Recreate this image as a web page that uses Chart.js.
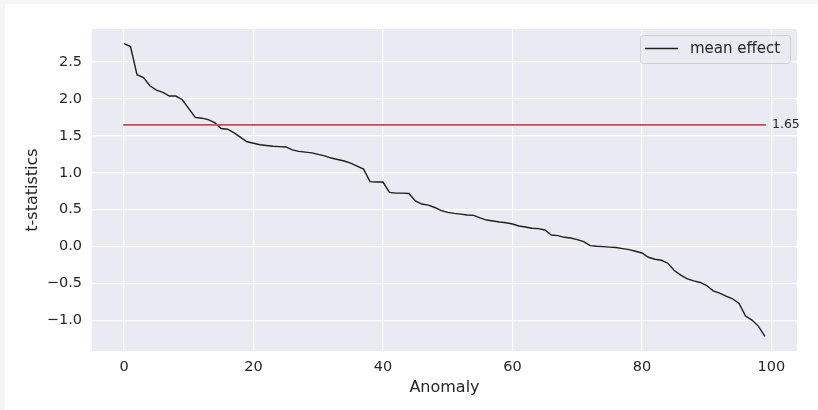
<!DOCTYPE html>
<html>
<head>
<meta charset="utf-8">
<title>t-statistics by anomaly</title>
<script src="https://cdn.jsdelivr.net/npm/chart.js@4.4.1/dist/chart.umd.min.js"></script>
<style>
  html, body { margin: 0; padding: 0; background: #ffffff; }
  #wrap { position: relative; width: 818px; height: 410px; }
  canvas { display: block; }
</style>
</head>
<body>
<div id="wrap"><canvas id="c" width="818" height="410"></canvas></div>
<script>
// t-statistic of the mean effect for each anomaly, sorted from high to low
const meanEffect = [
  2.75, 2.71, 2.33, 2.29, 2.18, 2.12, 2.09, 2.04, 2.04, 1.99,
  1.87, 1.75, 1.74, 1.72, 1.68, 1.60, 1.59, 1.54, 1.48, 1.42,
  1.40, 1.38, 1.37, 1.36, 1.355, 1.35, 1.31, 1.29, 1.28, 1.27,
  1.25, 1.23, 1.20, 1.18, 1.16, 1.13, 1.09, 1.05, 0.88, 0.875,
  0.875, 0.735, 0.725, 0.725, 0.72, 0.62, 0.577, 0.563, 0.53, 0.487,
  0.464, 0.45, 0.44, 0.428, 0.423, 0.39, 0.36, 0.347, 0.333, 0.324,
  0.306, 0.28, 0.266, 0.248, 0.243, 0.225, 0.158, 0.149, 0.126, 0.117,
  0.095, 0.068, 0.014, 0.005, 0.0, -0.007, -0.013, -0.027, -0.041, -0.063,
  -0.086, -0.144, -0.171, -0.185, -0.225, -0.324, -0.387, -0.437, -0.464, -0.486,
  -0.527, -0.599, -0.631, -0.671, -0.707, -0.77, -0.94, -0.995, -1.08, -1.216
];
// anomaly index for each value
const anomalies = meanEffect.map((_, i) => i);
// significance threshold drawn as a horizontal reference line
const threshold = 1.65;
const thresholdLabel = '1.65';
const seriesLabel = 'mean effect';
const xTicks = [0, 20, 40, 60, 80, 100];
const yTicks = [-1.0, -0.5, 0.0, 0.5, 1.0, 1.5, 2.0, 2.5];

const TEXT = '#262626';
const FONT = "'DejaVu Sans', sans-serif";

// matplotlib-style 5% margins around the data
const xMin0 = anomalies[0], xMax0 = anomalies[anomalies.length - 1];
const yMin0 = Math.min(...meanEffect, threshold), yMax0 = Math.max(...meanEffect, threshold);
const xPad = (xMax0 - xMin0) * 0.05, yPad = (yMax0 - yMin0) * 0.05;

const fmtNum = v => {
  const s = v.toFixed(1);
  return v < 0 ? '\u2212' + s.slice(1) : s;
};

const chromePlugin = {
  id: 'chrome',
  beforeDraw(chart) {
    const { ctx, chartArea: a, width, height } = chart;
    ctx.save();
    ctx.fillStyle = '#ffffff';
    ctx.fillRect(0, 0, width, height);
    ctx.fillStyle = '#f6f6f8';
    ctx.fillRect(0, 0, 5, height);
    ctx.fillRect(0, 0, width, 4);
    ctx.fillStyle = '#eaeaf2';
    ctx.fillRect(a.left, a.top, a.right - a.left, a.bottom - a.top);
    ctx.restore();
  },
  afterDatasetsDraw(chart) {
    const { ctx } = chart;
    const xs = chart.scales.x, ys = chart.scales.y;
    ctx.save();
    // threshold value printed to the right of the reference line
    ctx.fillStyle = TEXT;
    ctx.font = '12.5px ' + FONT;
    ctx.textAlign = 'left';
    ctx.textBaseline = 'middle';
    ctx.fillText(thresholdLabel, xs.getPixelForValue(xMax0) + 7, ys.getPixelForValue(threshold));

    // legend box in the upper right corner
    const bx = 640.5, by = 35.5, bw = 150, bh = 28, r = 3;
    ctx.beginPath();
    ctx.moveTo(bx + r, by);
    ctx.arcTo(bx + bw, by, bx + bw, by + bh, r);
    ctx.arcTo(bx + bw, by + bh, bx, by + bh, r);
    ctx.arcTo(bx, by + bh, bx, by, r);
    ctx.arcTo(bx, by, bx + bw, by, r);
    ctx.closePath();
    ctx.fillStyle = 'rgba(234,234,242,0.8)';
    ctx.fill();
    ctx.strokeStyle = 'rgba(204,204,204,0.8)';
    ctx.lineWidth = 1;
    ctx.stroke();
    const ds = chart.data.datasets[0];
    ctx.beginPath();
    ctx.moveTo(645, 48.5);
    ctx.lineTo(678, 48.5);
    ctx.strokeStyle = ds.borderColor;
    ctx.lineWidth = ds.borderWidth;
    ctx.stroke();
    ctx.fillStyle = TEXT;
    ctx.font = '15px ' + FONT;
    ctx.textBaseline = 'middle';
    ctx.fillText(ds.label, 690, 49);
    ctx.restore();
  }
};

new Chart(document.getElementById('c'), {
  type: 'line',
  data: {
    datasets: [
      {
        label: seriesLabel,
        data: anomalies.map((a, i) => ({ x: a, y: meanEffect[i] })),
        borderColor: '#1f1f1f',
        borderWidth: 1.4,
        pointRadius: 0,
        tension: 0,
        order: 2
      },
      {
        label: 'threshold',
        data: [{ x: xMin0, y: threshold }, { x: xMax0, y: threshold }],
        borderColor: '#c44e52',
        borderWidth: 1.8,
        borderCapStyle: 'square',
        pointRadius: 0,
        order: 1
      }
    ]
  },
  options: {
    responsive: false,
    animation: false,
    devicePixelRatio: 1,
    layout: { padding: { top: 29, right: 21, left: 0, bottom: 0 } },
    plugins: { legend: { display: false }, tooltip: { enabled: false } },
    scales: {
      x: {
        type: 'linear',
        min: xMin0 - xPad,
        max: xMax0 + xPad,
        afterFit(s) { s.height = 59; },
        afterBuildTicks(s) { s.ticks = xTicks.map(v => ({ value: v })); },
        border: { display: false },
        grid: { color: '#ffffff', lineWidth: 1.2, drawTicks: false },
        ticks: { color: TEXT, font: { family: FONT, size: 14.5 }, padding: 8, maxRotation: 0,
                 callback: v => String(v) },
        title: { display: true, text: 'Anomaly', color: TEXT,
                 font: { family: FONT, size: 16 }, padding: { top: 0, bottom: 13 } }
      },
      y: {
        type: 'linear',
        min: yMin0 - yPad,
        max: yMax0 + yPad,
        afterFit(s) { s.width = 92; },
        afterBuildTicks(s) { s.ticks = yTicks.map(v => ({ value: v })); },
        border: { display: false },
        grid: { color: '#ffffff', lineWidth: 1.2, drawTicks: false },
        ticks: { color: TEXT, font: { family: FONT, size: 14.5 }, padding: 10,
                 callback: v => fmtNum(v) },
        title: { display: true, text: 't-statistics', color: TEXT,
                 font: { family: FONT, size: 16 }, padding: { top: 23, bottom: 0 } }
      }
    }
  },
  plugins: [chromePlugin]
});
</script>
</body>
</html>
